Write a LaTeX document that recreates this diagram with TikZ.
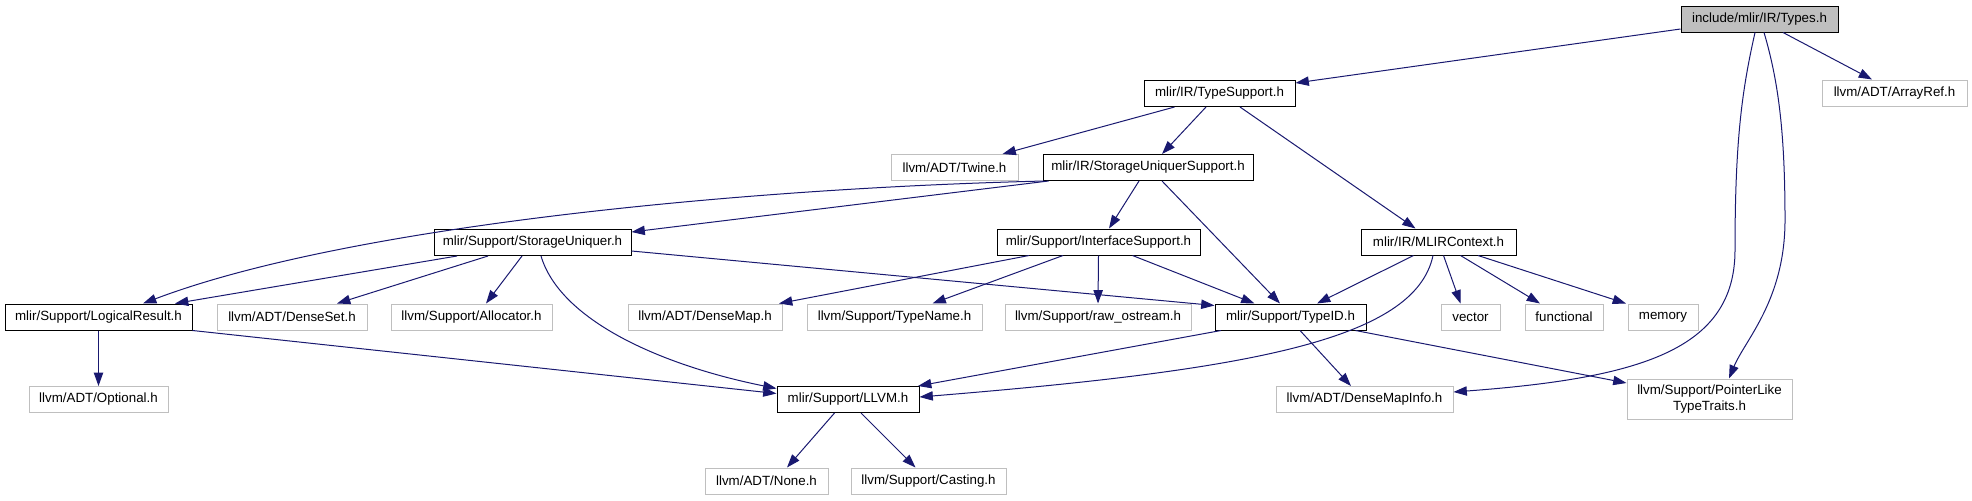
\documentclass[tikz,border=0pt]{standalone}
\usepackage{fontspec}
\setmainfont{Liberation Sans}
\usetikzlibrary{arrows.meta,calc}
\definecolor{edgeblue}{HTML}{191970}
\definecolor{greyseventyfive}{HTML}{BFBFBF}
\begin{document}
\begin{tikzpicture}[x=0.75pt,y=-0.75pt,
  file/.style={draw=black, line width=0.75pt, rectangle, inner sep=0pt,
    minimum height={26*0.75pt}, font=\fontsize{10pt}{12pt}\selectfont,
    text=black, fill=white, align=center},
  ext/.style={file, draw=greyseventyfive},
  cur/.style={file, fill=greyseventyfive},
  dep/.style={draw=edgeblue, line width=0.75pt, -{Triangle[length=10pt,width=7pt]}}]
\useasboundingbox (0,0) rectangle (1972,500);
% row 0
\node[cur, minimum width={157*0.75pt}] (types) at (1759.5,19) {include/mlir/IR/Types.h};
% row 1
\node[file, minimum width={151*0.75pt}] (typesupport) at (1219.5,93.5) {mlir/IR/TypeSupport.h};
\node[ext, minimum width={145*0.75pt}] (arrayref) at (1894.5,93) {llvm/ADT/ArrayRef.h};
% row 2
\node[ext, minimum width={127*0.75pt}] (twine) at (954.5,167.5) {llvm/ADT/Twine.h};
\node[file, minimum width={210*0.75pt}] (sus) at (1148,167.5) {mlir/IR/StorageUniquerSupport.h};
% row 3
\node[file, minimum width={197*0.75pt}] (su) at (532.5,242.5) {mlir/Support/StorageUniquer.h};
\node[file, minimum width={203*0.75pt}] (is) at (1098.5,242) {mlir/Support/InterfaceSupport.h};
\node[file, minimum width={155*0.75pt}] (mlirctx) at (1438.5,242) {mlir/IR/MLIRContext.h};
% row 4
\node[file, minimum width={187*0.75pt}] (lr) at (98.5,317) {mlir/Support/LogicalResult.h};
\node[ext, minimum width={150*0.75pt}] (denseset) at (292,317) {llvm/ADT/DenseSet.h};
\node[ext, minimum width={161*0.75pt}] (allocator) at (471.5,317) {llvm/Support/Allocator.h};
\node[ext, minimum width={154*0.75pt}] (densemap) at (705,317) {llvm/ADT/DenseMap.h};
\node[ext, minimum width={175*0.75pt}] (typename) at (894.5,317) {llvm/Support/TypeName.h};
\node[ext, minimum width={186*0.75pt}] (rawostream) at (1098,317) {llvm/Support/raw\_ostream.h};
\node[file, minimum width={151*0.75pt}] (typeid) at (1290.5,317) {mlir/Support/TypeID.h};
\node[ext, minimum width={59*0.75pt}] (vector) at (1470.5,317) {vector};
\node[ext, minimum width={78*0.75pt}] (functional) at (1564,317) {functional};
\node[ext, minimum width={70*0.75pt}] (memory) at (1663,317) {memory};
% row 5
\node[ext, minimum width={139*0.75pt}] (optional) at (98.5,399.5) {llvm/ADT/Optional.h};
\node[file, minimum width={142*0.75pt}] (llvm) at (848,399.5) {mlir/Support/LLVM.h};
\node[ext, minimum width={177*0.75pt}] (densemapinfo) at (1364.5,399.5) {llvm/ADT/DenseMapInfo.h};
\node[ext, minimum width={165*0.75pt}, minimum height={40*0.75pt}] (pointerlike) at (1709.5,399) {llvm/Support/PointerLike\\TypeTraits.h};
% row 6
\node[ext, minimum width={123*0.75pt}] (none) at (766.5,481) {llvm/ADT/None.h};
\node[ext, minimum width={155*0.75pt}] (casting) at (928.5,481) {llvm/Support/Casting.h};

% edges from Types.h
\draw[dep] ($(types.west)+(0,10)$) -- ($(typesupport.east)+(0,-10.5)$);
\draw[dep] ($(types.south)+(23.5,0)$) -- ($(arrayref.north)+(-22.5,0)$);
\draw[dep] ($(types.south)+(-4.5,0)$) .. controls (1742,90) and (1735,140) .. (1735,250)
   .. controls (1735,350) and (1640,378) .. ($(densemapinfo.east)+(0,-7.5)$);
\draw[dep] ($(types.south)+(4.5,0)$) .. controls (1778,80) and (1785,130) .. (1785,220)
   .. controls (1785,300) and (1745,340) .. ($(pointerlike.north)+(19.5,0)$);
% TypeSupport
\draw[dep] ($(typesupport.south)+(-45,0)$) -- ($(twine.north)+(48,0)$);
\draw[dep] ($(typesupport.south)+(-13.5,0)$) -- ($(sus.north)+(14,0)$);
\draw[dep] ($(typesupport.south)+(20.5,0)$) -- ($(mlirctx.north)+(-23,0)$);
% StorageUniquerSupport
\draw[dep] ($(sus.south)+(-9,0)$) -- ($(is.north)+(10.5,0)$);
\draw[dep] ($(sus.south)+(14,0)$) -- ($(typeid.north)+(-10.5,0)$);
\draw[dep] ($(sus.south west)+(2,0)$) .. controls (750,188) and (350,225) .. ($(lr.north)+(44.5,0)$);
\draw[dep] ($(sus.south west)+(6,0)$) -- ($(su.north east)+(0,3)$);
% StorageUniquer
\draw[dep] ($(su.south)+(-75.5,0)$) -- ($(lr.north)+(76.5,0)$);
\draw[dep] ($(su.south)+(-44.5,0)$) -- ($(denseset.north)+(45,0)$);
\draw[dep] ($(su.south)+(-10.5,0)$) -- ($(allocator.north)+(14.5,0)$);
\draw[dep] ($(su.south)+(8.5,0)$) .. controls (560,320) and (660,365) .. ($(llvm.north west)+(0,2.5)$);
\draw[dep] ($(su.south east)+(0,-5)$) -- ($(typeid.north west)+(0,2)$);
% LogicalResult
\draw[dep] (lr.south) -- (optional.north);
\draw[dep] (lr.south east) -- ($(llvm.west)+(0,-6)$);
% InterfaceSupport
\draw[dep] ($(is.south)+(-69.5,0)$) -- ($(densemap.north)+(74,0)$);
\draw[dep] ($(is.south)+(-35.5,0)$) -- ($(typename.north)+(38,0)$);
\draw[dep] (is.south) -- (rawostream.north);
\draw[dep] ($(is.south)+(34,0)$) -- ($(typeid.north)+(-36,0)$);
% MLIRContext
\draw[dep] ($(mlirctx.south)+(-25,0)$) -- ($(typeid.north)+(26.5,0)$);
\draw[dep] ($(mlirctx.south)+(-5.5,0)$) .. controls (1415,340) and (1250,370) .. ($(llvm.east)+(0,-2.5)$);
\draw[dep] ($(mlirctx.south)+(5,0)$) -- ($(vector.north)+(-10,0)$);
\draw[dep] ($(mlirctx.south)+(22,0)$) -- ($(functional.north)+(-24,0)$);
\draw[dep] ($(mlirctx.south)+(39.5,0)$) -- ($(memory.north)+(-37,0)$);
% TypeID
\draw[dep] ($(typeid.south)+(-69.5,0)$) -- ($(llvm.north)+(70,0)$);
\draw[dep] ($(typeid.south)+(9.5,0)$) -- ($(densemapinfo.north)+(-13.5,0)$);
\draw[dep] ($(typeid.south)+(65,0)$) -- ($(pointerlike.west)+(0,-16)$);
% LLVM
\draw[dep] ($(llvm.south)+(-13.5,0)$) -- ($(none.north)+(20.5,0)$);
\draw[dep] ($(llvm.south)+(13,0)$) -- ($(casting.north)+(-13,0)$);
\end{tikzpicture}
\end{document}
